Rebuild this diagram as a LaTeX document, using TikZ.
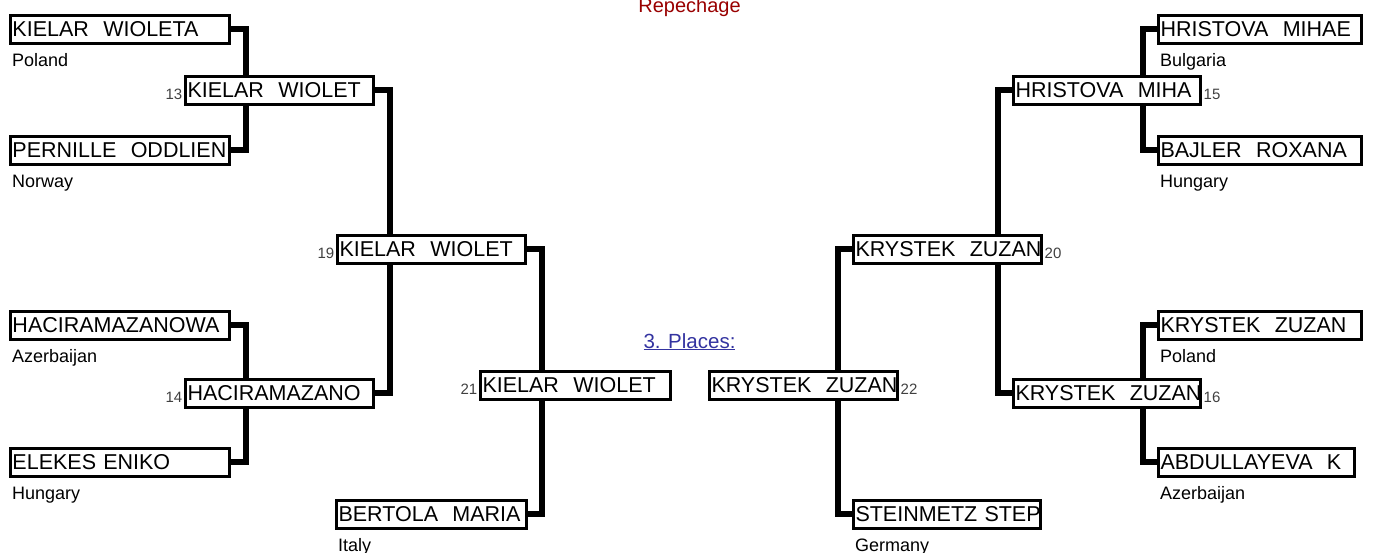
\documentclass[tikz,border=0pt]{standalone}
\usepackage{fontspec}
\setmainfont{Liberation Sans}
\usetikzlibrary{backgrounds}
\definecolor{repred}{RGB}{153,0,0}
\definecolor{placeblue}{RGB}{51,51,160}
\definecolor{numgray}{RGB}{64,64,64}
\begin{document}
\begin{tikzpicture}[x=1pt,y=-1pt,
  namebox/.style={draw,line width=3pt,fill=white,anchor=west,minimum height=28pt,
    inner xsep=2pt,inner ysep=0pt,text width=#1,align=left,text height=15.5pt,text depth=0pt,
    font=\fontsize{21.5}{24}\selectfont},
  country/.style={anchor=base west,yshift=-22pt,inner xsep=3pt,font=\fontsize{18}{20}\selectfont},
  numl/.style={text=numgray,inner xsep=1.5pt,inner ysep=0pt,yshift=6.5pt,font=\fontsize{15}{17}\selectfont},
  wire/.style={line width=6pt}]
\useasboundingbox (0,0) rectangle (1373,552);
\node[text=repred,anchor=base,font=\fontsize{20}{22}\selectfont] (rep) at (689.5,12) {Repechage};
\node[text=placeblue,anchor=base,font=\fontsize{20.5}{22}\selectfont] (pl) at (689.5,348) {\underline{3. Places:}};
\node[namebox=215pt] (kw) at (9,29) {KIELAR~~WIOLETA};
\node[namebox=215pt] (po) at (9,150) {PERNILLE~~ODDLIEN};
\node[namebox=215pt] (ha) at (9,325) {HACIRAMAZANOWA};
\node[namebox=215pt] (ee) at (9,462) {ELEKES~ENIKO};
\node[namebox=184pt] (w13) at (184,90) {KIELAR~~WIOLET};
\node[namebox=184pt] (w14) at (184,393) {HACIRAMAZANO};
\node[namebox=184pt] (w19) at (336,249) {KIELAR~~WIOLET};
\node[namebox=186pt] (w21) at (479,385) {KIELAR~~WIOLET};
\node[namebox=186pt] (bm) at (335,514) {BERTOLA~~MARIA};
\node[namebox=199pt] (hm) at (1157,29) {HRISTOVA~~MIHAE};
\node[namebox=199pt] (br) at (1157,150) {BAJLER~~ROXANA};
\node[namebox=199pt] (kp) at (1157,325) {KRYSTEK~~ZUZAN};
\node[namebox=192pt] (ab) at (1157,462) {ABDULLAYEVA~~K};
\node[namebox=183pt] (w15) at (1012,90) {HRISTOVA~~MIHA};
\node[namebox=183pt] (w16) at (1012,393) {KRYSTEK~~ZUZAN};
\node[namebox=184pt] (w20) at (852,249) {KRYSTEK~~ZUZAN};
\node[namebox=184pt] (w22) at (708,385) {KRYSTEK~~ZUZAN};
\node[namebox=183pt] (st) at (852,514) {STEINMETZ~STEP};
\node[country] (kwc) at (kw.south west) {Poland};
\node[country] (poc) at (po.south west) {Norway};
\node[country] (hac) at (ha.south west) {Azerbaijan};
\node[country] (eec) at (ee.south west) {Hungary};
\node[country] (bmc) at (bm.south west) {Italy};
\node[country] (hmc) at (hm.south west) {Bulgaria};
\node[country] (brc) at (br.south west) {Hungary};
\node[country] (kpc) at (kp.south west) {Poland};
\node[country] (abc) at (ab.south west) {Azerbaijan};
\node[country] (stc) at (st.south west) {Germany};
\node[numl,anchor=base east] (n13) at (w13.south west) {13};
\node[numl,anchor=base east] (n14) at (w14.south west) {14};
\node[numl,anchor=base east] (n19) at (w19.south west) {19};
\node[numl,anchor=base east] (n21) at (w21.south west) {21};
\node[numl,anchor=base west] (n15) at (w15.south east) {15};
\node[numl,anchor=base west] (n16) at (w16.south east) {16};
\node[numl,anchor=base west] (n20) at (w20.south east) {20};
\node[numl,anchor=base west] (n22) at (w22.south east) {22};
\begin{scope}[on background layer]
\draw[wire] (kw.east) -- ++(14.5,0) |- (po.east);
\draw[wire] (ha.east) -- ++(14.5,0) |- (ee.east);
\draw[wire] (w13.east) -- ++(14.5,0) |- (w14.east);
\draw[wire] (w19.east) -- ++(14.5,0) |- (bm.east);
\draw[wire] (hm.west) -- ++(-14.5,0) |- (br.west);
\draw[wire] (kp.west) -- ++(-14.5,0) |- (ab.west);
\draw[wire] (w15.west) -- ++(-14.5,0) |- (w16.west);
\draw[wire] (w20.west) -- ++(-14.5,0) |- (st.west);
\end{scope}
\end{tikzpicture}
\end{document}
